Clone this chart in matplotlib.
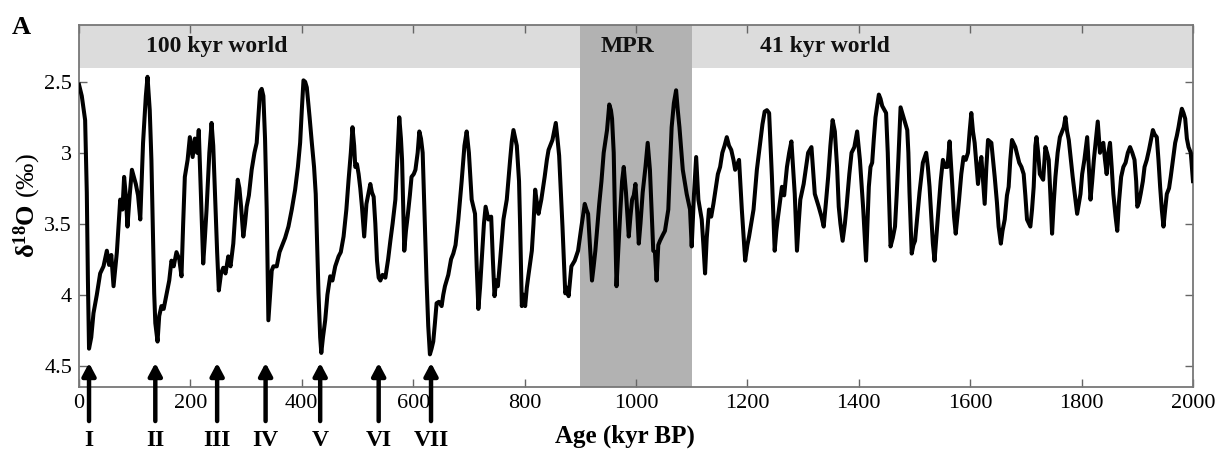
import matplotlib
matplotlib.use("Agg")
import matplotlib.pyplot as plt

plt.rcParams['font.family'] = ['Liberation Serif', 'DejaVu Serif']
plt.rcParams['mathtext.fontset'] = 'custom'
plt.rcParams['mathtext.rm'] = 'Liberation Serif'
plt.rcParams['mathtext.bf'] = 'Liberation Serif:bold'
plt.rcParams['mathtext.it'] = 'Liberation Serif:italic'

# ---- data ----
ages = [0, 5, 11, 14, 16, 18, 22, 26, 32, 38, 44, 50, 54, 58, 62, 68, 74, 78, 81, 84, 87, 91, 95, 102, 106, 110,
        115, 120, 123, 127, 130, 135, 137, 141, 144, 148, 152, 157, 162, 166, 170, 175, 180, 184, 187, 190, 195,
        199, 204, 208, 212, 215, 219, 223, 226, 229, 234, 238, 241, 244, 248, 251, 255, 259, 263, 268, 272, 277,
        281, 285, 288, 291, 295, 298, 301, 305, 310, 315, 319, 322, 325, 328, 331, 334, 337, 340, 343, 346, 349,
        355, 360, 364, 370, 376, 382, 388, 393, 397, 400, 403, 406, 409, 414, 418, 422, 425, 428, 430, 433, 435,
        438, 442, 446, 451, 455, 460, 466, 470, 475, 480, 484, 488, 491, 494, 496, 499, 502, 505, 508, 512, 516,
        519, 523, 526, 529, 532, 535, 538, 541, 545, 550, 555, 559, 563, 568, 572, 575, 578, 580, 584, 587, 590,
        594, 597, 601, 604, 608, 611, 614, 617, 621, 624, 627, 630, 633, 636, 639, 642, 646, 651, 654, 657, 663,
        668, 672, 676, 681, 687, 692, 696, 700, 705, 711, 714, 717, 720, 723, 727, 730, 735, 740, 743, 746, 749,
        752, 756, 762, 768, 774, 777, 780, 786, 790, 792, 795, 798, 801, 804, 807, 813, 816, 819, 822, 825, 830,
        836, 840, 843, 850, 853, 856, 859, 862, 868, 873, 876, 879, 884, 890, 896, 902, 908, 911, 914, 918, 921,
        924, 927, 934, 938, 942, 948, 952, 955, 957, 960, 962, 965, 968, 972, 975, 978, 982, 987, 990, 993, 996,
        999, 1002, 1005, 1008, 1012, 1017, 1021, 1025, 1028, 1031, 1034, 1037, 1040, 1043, 1048, 1052, 1058,
        1061, 1064, 1068, 1072, 1075, 1078, 1084, 1091, 1097, 1100, 1104, 1108, 1112, 1118, 1121, 1124, 1127,
        1131, 1135, 1139, 1147, 1151, 1155, 1159, 1163, 1167, 1171, 1175, 1178, 1185, 1190, 1196, 1200, 1203,
        1211, 1217, 1223, 1227, 1231, 1235, 1239, 1244, 1249, 1252, 1255, 1262, 1266, 1271, 1275, 1279, 1285,
        1289, 1292, 1295, 1301, 1309, 1315, 1321, 1328, 1333, 1337, 1341, 1345, 1349, 1353, 1357, 1361, 1364,
        1367, 1371, 1375, 1378, 1383, 1387, 1392, 1397, 1402, 1408, 1413, 1418, 1421, 1424, 1427, 1430, 1436,
        1439, 1442, 1449, 1452, 1454, 1457, 1461, 1465, 1468, 1471, 1475, 1478, 1481, 1487, 1489, 1491, 1495,
        1498, 1501, 1505, 1509, 1515, 1521, 1524, 1527, 1533, 1536, 1540, 1543, 1547, 1551, 1555, 1559, 1563,
        1568, 1571, 1574, 1577, 1580, 1584, 1588, 1592, 1596, 1599, 1602, 1605, 1608, 1614, 1617, 1620, 1623,
        1626, 1629, 1632, 1638, 1644, 1648, 1651, 1655, 1658, 1662, 1666, 1669, 1672, 1675, 1681, 1688, 1692,
        1696, 1699, 1702, 1708, 1711, 1714, 1717, 1719, 1722, 1725, 1731, 1735, 1738, 1741, 1744, 1747, 1750,
        1753, 1757, 1761, 1768, 1771, 1774, 1777, 1784, 1788, 1792, 1798, 1801, 1805, 1810, 1813, 1816, 1819,
        1822, 1826, 1829, 1833, 1836, 1839, 1842, 1845, 1848, 1851, 1854, 1857, 1861, 1864, 1867, 1871, 1875,
        1879, 1883, 1887, 1891, 1895, 1898, 1900, 1903, 1906, 1910, 1913, 1917, 1921, 1925, 1928, 1931, 1935,
        1938, 1941, 1944, 1947, 1950, 1953, 1957, 1960, 1964, 1968, 1971, 1974, 1977, 1980, 1983, 1986, 1989,
        1992, 1996, 1998, 2000]
d18o = [2.52, 2.6, 2.77, 3.28, 3.9, 4.38, 4.3, 4.13, 4.0, 3.85, 3.8, 3.69, 3.79, 3.72, 3.94, 3.7, 3.33, 3.4, 3.17,
        3.3, 3.52, 3.3, 3.12, 3.22, 3.3, 3.47, 2.93, 2.6, 2.465, 2.7, 3.05, 3.99, 4.2, 4.33, 4.15, 4.08, 4.1, 4.0,
        3.9, 3.76, 3.8, 3.7, 3.75, 3.87, 3.5, 3.17, 3.05, 2.89, 3.03, 2.9, 3.0, 2.84, 3.3, 3.78, 3.6, 3.4, 3.0,
        2.79, 2.95, 3.28, 3.7, 3.97, 3.85, 3.81, 3.85, 3.73, 3.8, 3.64, 3.4, 3.19, 3.25, 3.38, 3.59, 3.5, 3.38,
        3.3, 3.12, 3.0, 2.93, 2.75, 2.57, 2.55, 2.6, 2.9, 3.4, 4.18, 4.0, 3.83, 3.8, 3.8, 3.7, 3.66, 3.6, 3.52,
        3.4, 3.26, 3.1, 2.93, 2.7, 2.49, 2.5, 2.54, 2.75, 2.93, 3.1, 3.29, 3.7, 3.99, 4.3, 4.41, 4.3, 4.18, 4.0,
        3.87, 3.9, 3.8, 3.73, 3.7, 3.59, 3.4, 3.19, 3.0, 2.82, 2.95, 3.1, 3.08, 3.15, 3.25, 3.38, 3.59, 3.36, 3.3,
        3.22, 3.28, 3.31, 3.5, 3.76, 3.88, 3.9, 3.86, 3.88, 3.75, 3.62, 3.5, 3.33, 3.0, 2.75, 2.9, 3.05, 3.69,
        3.55, 3.45, 3.3, 3.17, 3.15, 3.12, 3.0, 2.85, 2.9, 3.0, 3.52, 3.9, 4.22, 4.42, 4.38, 4.33, 4.2, 4.06,
        4.05, 4.08, 4.0, 3.94, 3.86, 3.75, 3.71, 3.65, 3.47, 3.2, 2.95, 2.85, 3.0, 3.33, 3.43, 3.8, 4.1, 3.95,
        3.76, 3.5, 3.38, 3.47, 3.45, 3.75, 4.01, 3.9, 3.94, 3.76, 3.47, 3.33, 3.05, 2.92, 2.84, 2.95, 3.2, 3.52,
        4.08, 4.0, 4.08, 3.95, 3.86, 3.69, 3.5, 3.26, 3.35, 3.43, 3.33, 3.17, 3.05, 2.98, 2.91, 2.85, 2.79, 2.9,
        3.02, 3.52, 3.99, 3.95, 4.01, 3.8, 3.76, 3.69, 3.52, 3.36, 3.4, 3.43, 3.7, 3.9, 3.8, 3.69, 3.36, 3.2, 3.0,
        2.84, 2.66, 2.7, 2.76, 3.0, 3.4, 3.94, 3.7, 3.4, 3.2, 3.1, 3.28, 3.59, 3.45, 3.33, 3.3, 3.22, 3.4, 3.64,
        3.5, 3.28, 3.1, 2.93, 3.12, 3.4, 3.69, 3.7, 3.9, 3.65, 3.62, 3.58, 3.55, 3.4, 3.1, 2.82, 2.65, 2.56, 2.7,
        2.82, 3.12, 3.29, 3.4, 3.66, 3.3, 3.03, 3.33, 3.47, 3.65, 3.85, 3.6, 3.4, 3.45, 3.36, 3.15, 3.1, 3.0,
        2.95, 2.89, 2.95, 2.98, 3.05, 3.12, 3.05, 3.4, 3.76, 3.65, 3.59, 3.4, 3.12, 2.93, 2.8, 2.71, 2.7, 2.72,
        3.17, 3.69, 3.55, 3.45, 3.24, 3.3, 3.1, 3.0, 2.92, 3.29, 3.69, 3.5, 3.33, 3.22, 3.0, 2.96, 3.29, 3.38,
        3.45, 3.52, 3.35, 3.17, 2.95, 2.77, 2.85, 3.1, 3.38, 3.5, 3.62, 3.5, 3.38, 3.15, 3.0, 2.96, 2.85, 3.05,
        3.4, 3.76, 3.24, 3.1, 3.07, 2.9, 2.75, 2.59, 2.62, 2.67, 2.72, 3.0, 3.28, 3.66, 3.6, 3.52, 3.3, 3.05,
        2.68, 2.72, 2.76, 2.84, 3.0, 3.28, 3.71, 3.65, 3.62, 3.45, 3.28, 3.07, 3.0, 3.1, 3.24, 3.64, 3.76, 3.55,
        3.4, 3.2, 3.05, 3.1, 3.1, 2.92, 3.24, 3.45, 3.57, 3.45, 3.33, 3.15, 3.03, 3.05, 3.0, 2.85, 2.72, 2.85,
        2.93, 3.22, 3.1, 3.03, 3.2, 3.36, 3.1, 2.91, 2.93, 3.17, 3.35, 3.52, 3.64, 3.55, 3.47, 3.3, 3.24, 3.05,
        2.91, 2.96, 3.07, 3.1, 3.15, 3.3, 3.47, 3.52, 3.4, 3.24, 2.95, 2.89, 3.0, 3.15, 3.19, 2.96, 3.0, 3.05,
        3.3, 3.57, 3.35, 3.17, 3.0, 2.89, 2.82, 2.75, 2.85, 2.91, 3.17, 3.3, 3.43, 3.29, 3.15, 3.05, 2.89, 3.1,
        3.33, 3.2, 3.05, 2.9, 2.78, 3.0, 2.95, 2.93, 3.05, 3.15, 3.0, 2.93, 3.1, 3.29, 3.45, 3.55, 3.35, 3.17,
        3.1, 3.07, 3.0, 2.96, 3.0, 3.05, 3.2, 3.38, 3.35, 3.29, 3.2, 3.1, 3.05, 2.98, 2.9, 2.84, 2.87, 2.89, 3.05,
        3.24, 3.4, 3.52, 3.4, 3.29, 3.25, 3.17, 3.05, 2.93, 2.88, 2.82, 2.75, 2.69, 2.72, 2.76, 2.9, 2.96, 3.0,
        3.1, 3.2]

termination_ages = [18, 137, 248, 335, 433, 538, 632]
termination_labels = ["I", "II", "III", "IV", "V", "VI", "VII"]

mpr_range = (900, 1100)
band_range = (2.1, 2.4)
band_labels = ["100 kyr world", "MPR", "41 kyr world"]
band_label_ages = [248, 985, 1339]

x_ticks = [0, 200, 400, 600, 800, 1000, 1200, 1400, 1600, 1800, 2000]
y_ticks = [2.5, 3.0, 3.5, 4.0, 4.5]
y_tick_labels = ["2.5", "3", "3.5", "4", "4.5"]

# ---- figure ----
fig = plt.figure(figsize=(12.2, 4.5), dpi=100)
ax = fig.add_axes([79 / 1220, 1 - 387 / 450, (1193 - 79) / 1220, (387 - 25) / 450])

ax.set_xlim(0, 2000)
ax.set_ylim(4.65, 2.1)

ax.axhspan(band_range[0], band_range[1], color='#dcdcdc', zorder=0, lw=0)
ax.axvspan(mpr_range[0], mpr_range[1], color='#b2b2b2', zorder=1, lw=0)

ax.plot(ages, d18o, color='black', lw=2.9, zorder=3, solid_joinstyle='round')

for a, lab in zip(band_label_ages, band_labels):
    ax.text(a, 2.25, lab, ha='center', va='center', fontsize=17, fontweight='bold', color='#111111', zorder=4)

for a, lab in zip(termination_ages, termination_labels):
    ax.annotate('', xy=(a, 4.48), xytext=(a, 4.89), annotation_clip=False,
                arrowprops=dict(arrowstyle='-|>,head_length=0.75,head_width=0.4', lw=3.2, color='black',
                                shrinkA=0, shrinkB=0), zorder=5)
    ax.text(a, 5.03, lab, ha='center', va='center', fontsize=17, fontweight='bold', clip_on=False)

ax.set_xticks(x_ticks)
ax.set_yticks(y_ticks)
ax.set_yticklabels(y_tick_labels)
ax.tick_params(direction='in', top=True, right=True, length=6, width=1, color='#666666',
               labelsize=16, pad=5)
for sp in ax.spines.values():
    sp.set_color('#777777')
    sp.set_linewidth(1.3)

ax.text(-0.046, 0.5, r'$\mathbf{δ^{18}O}$ (‰)', transform=ax.transAxes, rotation=90,
        ha='center', va='center', fontsize=19)
ax.text(0.49, -0.135, 'Age (kyr BP)', transform=ax.transAxes, ha='center', va='center',
        fontsize=18, fontweight='bold')

fig.text(12 / 1220, 1 - 27 / 450, 'A', fontsize=19, fontweight='bold', ha='left', va='center')

fig.savefig('out.png', dpi=100)
